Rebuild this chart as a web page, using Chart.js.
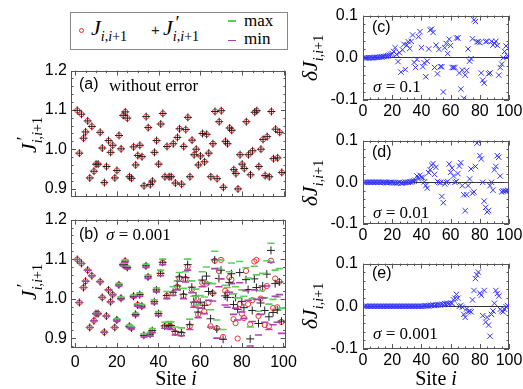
<!DOCTYPE html>
<html>
<head>
<meta charset="utf-8">
<script src="https://cdn.jsdelivr.net/npm/chart.js@4.4.1/dist/chart.umd.min.js"></script>
<style>
  body { margin: 0; width: 523px; height: 389px; position: relative; overflow: hidden; background: #fff; font-family: "Liberation Serif", serif; }
  canvas { position: absolute; z-index: 1; }
  .t { position: absolute; white-space: nowrap; line-height: 1; z-index: 2; color: #000; }
  .sans { font-family: "Liberation Sans", Arial, sans-serif; }
  .ctr { transform: translate(-50%, -50%); }
  .rot { transform: translate(-50%, -50%) rotate(-90deg); }
  .ss { position: relative; display: inline-block; font-size: 0.64em; }
  .ss .sb { position: relative; top: 0.42em; }
  .ss .pr { position: absolute; left: 0.15em; top: -0.55em; font-size: 1.35em; }
  #legend { position: absolute; left: 70px; top: 12px; width: 216px; height: 36px; border: 1px solid #888; z-index: 2; }
</style>
</head>
<body>

<div id="legend"></div>
<div class="t" style="left:79px;top:27.5px;width:5px;height:5px;border:1px solid #f03030;border-radius:50%;box-sizing:border-box;"></div>
<div class="t" style="left:91px;top:17px;font-size:22px;"><i>J</i><span class="ss"><span class="sb"><i>i</i>,<i>i</i>+1</span></span></div>
<div class="t sans" style="left:151px;top:22px;font-size:15px;color:#222;">+</div>
<div class="t" style="left:163px;top:17px;font-size:22px;"><i>J</i><span class="ss"><span class="pr">′</span><span class="sb"><i>i</i>,<i>i</i>+1</span></span></div>
<div class="t" style="left:228px;top:20px;width:8px;height:1.5px;background:#5ad05a;"></div>
<div class="t" style="left:244px;top:12px;font-size:17px;">max</div>
<div class="t" style="left:228px;top:39.5px;width:8px;height:1.5px;background:#b040b0;"></div>
<div class="t" style="left:244px;top:30px;font-size:17px;">min</div>

<div class="t sans" style="left:79px;top:76px;font-size:16px;">(a)</div>
<div class="t" style="left:109px;top:77px;font-size:17px;">without error</div>
<div class="t sans" style="left:79px;top:226px;font-size:16px;">(b)</div>
<div class="t" style="left:106px;top:226px;font-size:17px;"><i>σ</i> = 0.001</div>

<div class="t sans" style="left:372px;top:19px;font-size:16px;">(c)</div>
<div class="t" style="left:373px;top:78px;font-size:17px;"><i>σ</i> = 0.1</div>
<div class="t sans" style="left:372px;top:144px;font-size:16px;">(d)</div>
<div class="t" style="left:373px;top:204px;font-size:17px;"><i>σ</i> = 0.01</div>
<div class="t sans" style="left:372px;top:265px;font-size:16px;">(e)</div>
<div class="t" style="left:373px;top:325px;font-size:17px;"><i>σ</i> = 0.001</div>

<div class="t rot" style="left:29px;top:135px;font-size:22px;"><i>J</i><span class="ss"><span class="pr">′</span><span class="sb"><i>i</i>,<i>i</i>+1</span></span></div>
<div class="t rot" style="left:29px;top:282px;font-size:22px;"><i>J</i><span class="ss"><span class="pr">′</span><span class="sb"><i>i</i>,<i>i</i>+1</span></span></div>
<div class="t rot" style="left:310px;top:58px;font-size:22px;"><i>δJ</i><span class="ss"><span class="sb"><i>i</i>,<i>i</i>+1</span></span></div>
<div class="t rot" style="left:310px;top:183px;font-size:22px;"><i>δJ</i><span class="ss"><span class="sb"><i>i</i>,<i>i</i>+1</span></span></div>
<div class="t rot" style="left:310px;top:306px;font-size:22px;"><i>δJ</i><span class="ss"><span class="sb"><i>i</i>,<i>i</i>+1</span></span></div>

<div class="t ctr" style="left:176px;top:378px;font-size:20px;">Site <i>i</i></div>
<div class="t ctr" style="left:436px;top:378px;font-size:20px;">Site <i>i</i></div>

<script>
// site index of each bond
const sites = Array.from({ length: 99 }, (_, k) => k + 1);

// exact couplings J_{i,i+1}
const jExact = [
  1.099, 0.990, 1.089, 1.028, 1.044, 1.072, 0.927, 1.058, 0.944, 0.962,
  0.962, 1.043, 1.003, 0.915, 0.956, 1.022, 0.992, 1.010, 0.927, 0.946,
  1.035, 1.001, 1.086, 1.095, 1.079, 0.930, 0.926, 1.006, 0.960, 0.984,
  1.010, 0.981, 0.907, 1.083, 1.055, 0.910, 0.919, 0.992, 1.022, 0.962,
  1.064, 1.091, 0.930, 1.007, 0.930, 0.930, 1.014, 0.914, 1.030, 1.052,
  0.911, 1.007, 1.050, 1.081, 0.930, 1.023, 0.986, 1.000, 0.960, 0.983,
  1.040, 0.968, 1.038, 0.990, 0.930, 1.014, 1.096, 0.925, 1.070, 1.098,
  0.903, 1.020, 1.014, 1.054, 1.048, 0.948, 0.938, 0.899, 0.986, 0.962,
  0.951, 1.070, 0.986, 0.935, 0.996, 1.094, 1.098, 0.956, 1.000, 1.025,
  0.933, 1.032, 0.930, 1.096, 0.976, 1.051, 0.978, 1.043, 0.941
];

// reconstructed J' with sigma = 0.001, panel (b)
const jPrimeB = [
  1.099, 0.990, 1.089, 1.028, 1.044, 1.072, 0.927, 1.058, 0.944, 0.962,
  0.962, 1.043, 1.003, 0.915, 0.956, 1.022, 0.992, 1.010, 0.927, 0.946,
  1.035, 1.001, 1.086, 1.095, 1.079, 0.930, 0.926, 1.006, 0.960, 0.984,
  1.010, 0.981, 0.907, 1.083, 1.055, 0.910, 0.919, 0.992, 1.022, 0.962,
  1.064, 1.092, 0.931, 1.008, 0.931, 0.932, 1.016, 0.917, 1.032, 1.055,
  0.914, 1.011, 1.053, 1.086, 0.934, 1.029, 0.991, 1.007, 0.966, 0.991,
  1.047, 0.983, 1.057, 1.018, 0.949, 1.014, 1.098, 0.923, 1.051, 1.072,
  0.897, 1.007, 1.003, 1.041, 1.063, 0.985, 1.003, 0.973, 1.066, 0.993,
  0.977, 1.048, 1.023, 0.898, 0.970, 1.050, 1.028, 0.937, 0.989, 1.032,
  0.970, 1.062, 0.954, 1.122, 0.965, 1.038, 0.971, 1.042, 0.943
];

const jMaxB = [
  1.099, 0.990, 1.089, 1.028, 1.044, 1.072, 0.927, 1.058, 0.944, 0.962,
  0.962, 1.043, 1.003, 0.915, 0.956, 1.022, 0.992, 1.010, 0.927, 0.949,
  1.038, 1.004, 1.089, 1.098, 1.082, 0.933, 0.929, 1.009, 0.963, 0.987,
  1.014, 0.985, 0.911, 1.087, 1.059, 0.915, 0.924, 0.997, 1.027, 0.967,
  1.072, 1.100, 0.940, 1.018, 0.942, 0.941, 1.030, 0.928, 1.045, 1.066,
  0.926, 1.026, 1.068, 1.100, 0.948, 1.045, 1.006, 1.024, 0.984, 1.008,
  1.068, 1.004, 1.080, 1.040, 0.972, 1.038, 1.120, 0.946, 1.076, 1.098,
  0.922, 1.034, 1.028, 1.068, 1.090, 1.012, 1.030, 1.002, 1.094, 1.022,
  1.006, 1.078, 1.052, 0.928, 1.000, 1.082, 1.060, 0.968, 1.020, 1.064,
  1.002, 1.096, 0.986, 1.140, 0.998, 1.072, 1.004, 1.076, 0.976
];

const jMinB = [
  1.099, 0.990, 1.089, 1.028, 1.044, 1.072, 0.927, 1.058, 0.944, 0.962,
  0.962, 1.043, 1.003, 0.915, 0.956, 1.022, 0.992, 1.010, 0.927, 0.943,
  1.032, 0.998, 1.083, 1.092, 1.076, 0.927, 0.923, 1.003, 0.957, 0.981,
  1.006, 0.977, 0.903, 1.079, 1.051, 0.905, 0.914, 0.987, 1.017, 0.957,
  1.058, 1.086, 0.925, 1.000, 0.924, 0.922, 1.008, 0.908, 1.022, 1.044,
  0.906, 1.000, 1.042, 1.072, 0.922, 1.015, 0.978, 0.992, 0.952, 0.976,
  1.030, 0.962, 1.038, 0.996, 0.928, 0.994, 1.076, 0.900, 1.030, 1.050,
  0.872, 0.984, 0.978, 1.016, 1.038, 0.960, 0.976, 0.946, 1.040, 0.966,
  0.950, 1.020, 0.996, 0.880, 0.942, 1.022, 0.998, 0.908, 0.960, 1.002,
  0.940, 1.032, 0.922, 1.092, 0.934, 1.006, 0.940, 1.010, 0.912
];

// deviations delta J for sigma = 0.1, 0.01, 0.001
const dJc = [
  0.000, 0.000, 0.000, 0.000, 0.000, 0.000, 0.000, 0.001, 0.001, 0.001,
  0.001, 0.002, 0.002, 0.003, 0.003, 0.004, 0.005, 0.006, 0.008, 0.010,
  0.015, 0.024, 0.008, -0.009, 0.012, -0.034, 0.019, 0.032, -0.028, 0.030,
  0.038, 0.022, 0.039, 0.054, -0.011, -0.023, -0.004, 0.050, 0.062, 0.024,
  -0.021, -0.012, -0.045, -0.008, 0.021, 0.066, 0.068, 0.060, -0.023, 0.030,
  -0.038, 0.020, -0.021, -0.021, -0.081, 0.024, 0.034, 0.010, 0.044, 0.029,
  -0.023, -0.023, -0.023, 0.047, 0.047, -0.036, -0.074, -0.029, -0.096, -0.041,
  -0.030, 0.021, -0.008, -0.002, 0.045, 0.090, 0.086, 0.038, 0.038, 0.036,
  -0.036, -0.053, -0.060, 0.038, 0.039, -0.038, -0.036, 0.039, 0.030, 0.034,
  0.039, 0.029, -0.041, -0.023, -0.015, 0.000, 0.015, 0.028, 0.005
];

const dJd = [
  0.000, 0.000, 0.000, 0.000, 0.000, 0.000, 0.000, 0.000, 0.000, 0.000,
  0.000, 0.000, 0.000, 0.000, 0.000, -0.001, -0.001, 0.000, 0.000, 0.000,
  -0.001, -0.001, -0.002, -0.001, 0.000, -0.002, -0.002, -0.001, 0.000, 0.000,
  0.000, 0.001, 0.001, 0.002, 0.003, 0.005, 0.015, 0.008, 0.017, 0.012,
  0.011, 0.001, -0.008, -0.014, 0.023, 0.030, 0.041, 0.045, 0.019, 0.036,
  0.002, 0.000, -0.001, -0.034, -0.049, -0.004, 0.000, 0.002, 0.044, 0.024,
  0.034, 0.015, 0.000, 0.002, 0.021, 0.039, 0.047, -0.008, -0.030, -0.068,
  -0.030, -0.008, 0.008, 0.032, -0.026, -0.023, 0.038, 0.094, 0.098, 0.064,
  0.056, 0.000, -0.045, -0.060, -0.071, -0.068, -0.008, 0.000, -0.019, 0.030,
  0.038, 0.064, 0.060, 0.015, -0.023, -0.021, -0.021, -0.021, -0.019
];

const dJe = [
  0.000, 0.000, 0.000, 0.000, 0.000, 0.000, 0.000, 0.000, 0.000, 0.000,
  0.000, 0.000, 0.000, 0.000, 0.000, 0.000, 0.000, 0.000, 0.000, 0.000,
  0.000, 0.000, 0.000, 0.000, 0.000, 0.000, 0.000, 0.000, 0.000, 0.000,
  0.000, 0.000, 0.000, 0.000, 0.000, 0.000, 0.000, 0.000, 0.000, 0.000,
  0.000, 0.001, 0.001, 0.001, 0.001, 0.002, 0.002, 0.003, 0.002, 0.003,
  0.003, 0.004, 0.003, 0.005, 0.004, 0.006, 0.005, 0.007, 0.006, 0.008,
  0.007, 0.015, 0.019, 0.028, 0.019, 0.000, 0.002, -0.002, -0.019, -0.026,
  -0.006, -0.013, -0.011, -0.013, 0.015, 0.037, 0.065, 0.074, 0.080, 0.031,
  0.026, -0.022, 0.037, -0.037, -0.026, -0.044, -0.070, -0.019, -0.011, 0.007,
  0.037, 0.030, 0.024, -0.007, -0.011, -0.013, -0.007, -0.001, 0.002
];

const siteTicks = [0, 20, 40, 60, 80, 100];
const jTicks = [0.9, 1.0, 1.1, 1.2];
const dTicks = [-0.1, 0.0, 0.1];

const pts = vals => sites.map((s, k) => ({ x: s, y: vals[k] }));

// box frame with inward major/minor ticks on all four sides
const frameTicks = {
  id: 'frameTicks',
  beforeDatasetsDraw(chart, args, opts) {
    const { ctx, chartArea: a, scales } = chart;
    ctx.save();
    ctx.strokeStyle = '#555';
    ctx.lineWidth = 1;
    ctx.strokeRect(Math.round(a.left) + 0.5, Math.round(a.top) + 0.5,
      Math.round(a.right - a.left) - 1, Math.round(a.bottom - a.top) - 1);
    ctx.beginPath();
    const marks = (scale, major, minor, cb) => {
      const k0 = Math.ceil(scale.min / minor - 1e-6);
      for (let k = k0; k * minor <= scale.max + 1e-9; k++) {
        const v = k * minor;
        const r = v / major;
        const isMajor = Math.abs(r - Math.round(r)) < 1e-6;
        cb(Math.round(scale.getPixelForValue(v)) + 0.5, isMajor ? 5 : 2.5);
      }
    };
    marks(scales.x, opts.xMajor, opts.xMinor, (p, len) => {
      ctx.moveTo(p, a.bottom); ctx.lineTo(p, a.bottom - len);
      ctx.moveTo(p, a.top); ctx.lineTo(p, a.top + len);
    });
    marks(scales.y, opts.yMajor, opts.yMinor, (p, len) => {
      ctx.moveTo(a.left, p); ctx.lineTo(a.left + len, p);
      ctx.moveTo(a.right, p); ctx.lineTo(a.right - len, p);
    });
    ctx.stroke();
    ctx.restore();
  }
};

const tickFont = { family: '"Liberation Sans", Arial, sans-serif', size: 16 };

function panel(area, cfg) {
  const padT = 10, padR = 16, padB = 10;
  const left = area.l - cfg.yw;
  const top = area.t - padT;
  const cv = document.createElement('canvas');
  cv.width = area.r + padR - left;
  cv.height = area.b + cfg.xh + padB - top;
  cv.style.left = left + 'px';
  cv.style.top = top + 'px';
  document.body.appendChild(cv);

  return new Chart(cv, {
    type: 'scatter',
    data: { datasets: cfg.datasets },
    options: {
      responsive: false,
      animation: false,
      events: [],
      layout: { padding: { top: padT, right: padR, bottom: padB, left: 0 } },
      plugins: {
        legend: { display: false },
        tooltip: { enabled: false },
        frameTicks: { xMajor: 20, xMinor: 5, yMajor: 0.1, yMinor: 0.02 }
      },
      scales: {
        x: {
          type: 'linear',
          min: cfg.xMin, max: cfg.xMax,
          afterBuildTicks: s => { s.ticks = siteTicks.map(v => ({ value: v })); },
          afterFit: s => { s.height = cfg.xh; },
          grid: { display: false, drawTicks: false },
          border: { display: false },
          ticks: { display: cfg.xLabels, padding: cfg.xPad, font: tickFont, color: '#000', maxRotation: 0, autoSkip: false }
        },
        y: {
          type: 'linear',
          min: cfg.yMin, max: cfg.yMax,
          afterBuildTicks: s => { s.ticks = cfg.yTicks.map(v => ({ value: v })); },
          afterFit: s => { s.width = cfg.yw; },
          grid: cfg.zeroLine
            ? { display: true, drawTicks: false, lineWidth: 1, color: c => (c.tick && c.tick.value === 0 ? '#333' : 'rgba(0,0,0,0)') }
            : { display: false, drawTicks: false },
          border: { display: false },
          ticks: { padding: cfg.yPad, font: tickFont, color: '#000', callback: v => v.toFixed(1) }
        }
      }
    },
    plugins: [frameTicks]
  });
}

const circleSet = vals => ({
  data: pts(vals), order: 4, pointStyle: 'circle', pointRadius: 2.6,
  backgroundColor: 'rgba(0,0,0,0)', borderColor: '#f03030', pointBorderWidth: 1
});
const plusSet = vals => ({
  data: pts(vals), order: 3, pointStyle: 'cross', pointRadius: 4,
  borderColor: '#222', pointBorderWidth: 1
});
const dashSet = (vals, color, order) => ({
  data: pts(vals), order: order, pointStyle: 'line', pointRadius: 3.6,
  borderColor: color, pointBorderWidth: 1.6
});
const xSet = vals => ({
  data: pts(vals), pointStyle: 'crossRot', pointRadius: 3.8,
  borderColor: '#3535ff', pointBorderWidth: 1
});

const leftCfg = { yw: 44, xMin: -2, xMax: 101, yPad: 4, yTicks: jTicks, yMax: 1.2 };
const rightCfg = { yw: 45, xh: 20, xMin: 0, xMax: 100, xLabels: true, xPad: 2, yPad: 5,
  yTicks: dTicks, yMin: -0.1, yMax: 0.1, zeroLine: true };

// (a) without error
panel({ l: 71, t: 67, r: 286, b: 200 }, Object.assign({}, leftCfg, {
  xh: 0, xLabels: false, yMin: 0.88,
  datasets: [circleSet(jExact), plusSet(jExact)]
}));

// (b) sigma = 0.001
panel({ l: 71, t: 216, r: 286, b: 348 }, Object.assign({}, leftCfg, {
  xh: 25, xLabels: true, xPad: 5, yMin: 0.875,
  datasets: [circleSet(jExact), plusSet(jPrimeB),
    dashSet(jMaxB, '#5ad05a', 2), dashSet(jMinB, '#b040b0', 1)]
}));

// (c), (d), (e)
panel({ l: 363, t: 11, r: 509, b: 100 }, Object.assign({}, rightCfg, { datasets: [xSet(dJc)] }));
panel({ l: 363, t: 136, r: 509, b: 224 }, Object.assign({}, rightCfg, { datasets: [xSet(dJd)] }));
panel({ l: 363, t: 259, r: 509, b: 349 }, Object.assign({}, rightCfg, { datasets: [xSet(dJe)] }));
</script>
</body>
</html>
